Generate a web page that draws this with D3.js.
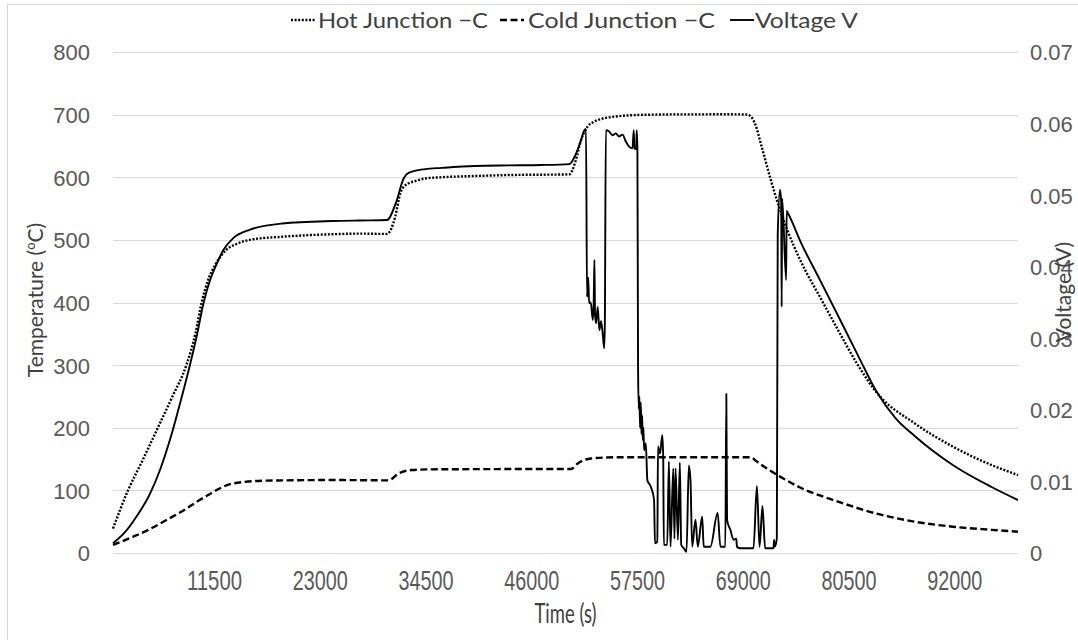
<!DOCTYPE html>
<html>
<head>
<meta charset="utf-8">
<script src="https://cdn.jsdelivr.net/npm/d3@7"></script>
<style>
  html, body { margin: 0; padding: 0; background: #fff; }
  svg { display: block; font-family: Lato, "Open Sans", sans-serif; }
</style>
</head>
<body>
<svg id="chart" width="1078" height="640"></svg>
<script>
// Thermocouple run: hot / cold junction temperatures (°C) and output voltage (V) against time (s)
const hotTime = [513, 2145, 3796, 5388, 6979, 8492, 9466, 10153, 10958, 11744, 12828, 14042, 15345, 18917, 24328, 27253, 30309, 31204, 31751, 32289, 33392, 34457, 36257, 39868, 43480, 50145, 50801, 51408, 52134, 52850, 53577, 55178, 56829, 59256, 62240, 67652, 69505, 70297, 71073, 71969, 72874, 73865, 75180, 77691, 79366, 81444, 83523, 87700, 91841, 96057, 98936];
const hotTemp = [39, 100, 150, 200, 250, 300, 350, 400, 440, 463, 484, 494, 500, 505, 509, 510, 509.5, 537, 574, 587, 594, 598, 600, 602, 603.5, 604.6, 625, 659, 681, 689, 693, 697, 699, 700, 700.4, 700.5, 700, 687, 648, 600, 556, 515, 470, 401, 356, 302, 257, 207, 170, 140.5, 124.5];

const coldTime = [513, 2712, 4492, 6333, 8173, 9934, 11157, 12102, 13535, 17156, 24368, 30488, 31572, 33015, 35183, 42345, 50333, 51059, 52493, 55018, 62241, 69801, 70538, 71622, 73063, 75180, 79366, 83523, 87700, 91841, 96057, 98936];
const coldTemp = [12.8, 26, 38, 52.7, 68, 84.6, 95, 103, 111, 115.5, 116.5, 116, 127, 132.5, 133.6, 134, 134.2, 143, 151, 152.8, 153, 153, 146, 135, 122, 105, 82, 63, 50, 42, 37, 34];

const voltTime = [513, 1818, 3123, 4428, 5624, 6821, 7908, 8887, 9648, 10355, 11062, 11823, 12550, 13535, 15346, 18916, 24328, 27253, 30309, 31304, 32120, 32657, 34457, 36257, 39868, 43480, 47081, 50145, 50801, 51408, 51776, 51955,
  52064, 52194, 52293, 52472, 52691, 52790, 52870, 52939, 53049, 53228, 53407, 53586, 53765, 53934, 54004,
  54113, 54471, 54839, 55197, 55556, 55924, 56282, 56640, 57008, 57147, 57217, 57406, 57475, 57545,
  57615, 57684, 57764, 57833, 57913, 57983, 58052, 58132, 58201, 58271, 58460, 58629, 58997, 59355, 59455, 59713, 59783, 60002, 60251, 60350, 60420, 60788, 60967, 61146,
  61445, 61574, 61694, 61952, 62161, 62310, 62599, 62887, 63136, 63315, 63504, 63862, 64111, 64588, 64758, 65484, 66270, 66568, 67105, 67215, 67294, 67652, 68011, 68299, 68369, 68727,
  70169, 70538, 70827, 71145, 71434, 72339, 72409, 72488, 72707,
  72805, 73053, 73182, 73234, 73287, 73721, 73775, 73865, 75354, 77420, 79780, 81651, 83530, 85611, 87700, 91841, 96057, 98936];
const voltValue = [0.00136, 0.0029, 0.0052, 0.008, 0.0116, 0.0163, 0.0214, 0.0263, 0.0305, 0.0349, 0.0381, 0.0405, 0.0424, 0.04393, 0.04515, 0.04603, 0.04638, 0.04646, 0.04652, 0.049, 0.05233, 0.05311, 0.05364, 0.05381, 0.05408, 0.05416, 0.05421, 0.05434, 0.0556, 0.05766, 0.05906, 0.05924,
  0.03579, 0.0385, 0.03491, 0.035, 0.03255, 0.035, 0.04095, 0.03325, 0.03211, 0.03439, 0.03115, 0.03238, 0.03071, 0.02861, 0.03211,
  0.05906, 0.05889, 0.05836, 0.05863, 0.05819, 0.05845, 0.05749, 0.05679, 0.05653, 0.05906, 0.05653, 0.05644, 0.05906, 0.05626,
  0.02625, 0.02013, 0.02188, 0.0175, 0.021, 0.01663, 0.01925, 0.01575, 0.0175, 0.01435, 0.01531, 0.01015, 0.00928, 0.00744, 0.00136, 0.00158, 0.01488, 0.01391, 0.01645, 0.01348, 0.00114, 0.00114, 0.01278, 0.00088,
  0.01181, 0.002, 0.01181, 0.00184, 0.0126, 0.00114, 0.00066, 0.00018, 0.01225, 0.01024, 0.00088, 0.00464, 0.00088, 0.00508, 0.00088, 0.00088, 0.0056, 0.00088, 0.00088, 0.02223, 0.00464, 0.00324, 0.00184, 0.00201, 0.00088, 0.00066,
  0.00066, 0.00936, 0.00088, 0.00656, 0.00066, 0.00066, 0.00184, 0.00088, 0.00201,
  0.04436, 0.05075, 0.049, 0.03439, 0.0495, 0.03815, 0.0478, 0.0476, 0.0433, 0.0381, 0.0321, 0.0273, 0.0226, 0.01886, 0.01635, 0.0123, 0.00922, 0.0074];

const timeTicks = [11500, 23000, 34500, 46000, 57500, 69000, 80500, 92000];
const tempTicks = [0, 100, 200, 300, 400, 500, 600, 700, 800];
const voltTicks = [0, 0.01, 0.02, 0.03, 0.04, 0.05, 0.06, 0.07];
const seriesNames = ["Hot Junction \u2212C", "Cold Junction \u2212C", "Voltage V"];

const svg = d3.select("#chart");
const plot = { left: 113, right: 1018, top: 52, bottom: 553 };

const x = d3.scaleLinear().domain([513, 98936]).range([plot.left, plot.right]);
const yT = d3.scaleLinear().domain([0, 800]).range([plot.bottom, plot.top]);
const yV = d3.scaleLinear().domain([0, 0.07]).range([plot.bottom, plot.top]);

// outer chart frame
svg.append("rect")
  .attr("x", 7.5).attr("y", 4.5).attr("width", 1200).attr("height", 800)
  .attr("fill", "none").attr("stroke", "#d9d9d9").attr("stroke-width", 1);

// horizontal gridlines
svg.append("g")
  .selectAll("line").data(tempTicks).join("line")
  .attr("x1", plot.left).attr("x2", plot.right)
  .attr("y1", d => Math.round(yT(d)) + 0.5).attr("y2", d => Math.round(yT(d)) + 0.5)
  .attr("stroke", "#d9d9d9").attr("stroke-width", 1);

const tickColor = "#595959";
const titleColor = "#404040";

// left axis (temperature)
const leftAxis = svg.append("g")
  .attr("transform", "translate(90,0)")
  .call(d3.axisLeft(yT).tickValues(tempTicks).tickSize(0).tickPadding(0).tickFormat(d3.format("d")));
leftAxis.select(".domain").remove();
leftAxis.selectAll("text").attr("fill", tickColor).style("font-size", "22px").attr("dy", "0.36em");

// right axis (voltage)
const rightAxis = svg.append("g")
  .attr("transform", "translate(1030,0)")
  .call(d3.axisRight(yV).tickValues(voltTicks).tickSize(0).tickPadding(0).tickFormat(d => d === 0 ? "0" : d3.format(".2f")(d)));
rightAxis.select(".domain").remove();
rightAxis.selectAll("text").attr("fill", tickColor).style("font-size", "22px").attr("dy", "0.36em");

// bottom axis (time)
const bottomAxis = svg.append("g")
  .attr("transform", `translate(0,${plot.bottom})`)
  .call(d3.axisBottom(x).tickValues(timeTicks).tickSize(0).tickPadding(0).tickFormat(d3.format("d")));
bottomAxis.select(".domain").remove();
bottomAxis.selectAll("text")
  .attr("fill", tickColor).style("font-size", "27px")
  .attr("dy", null).attr("y", 37)
  .attr("textLength", 55).attr("lengthAdjust", "spacingAndGlyphs");

// axis titles
svg.append("text")
  .attr("x", (plot.left + plot.right) / 2).attr("y", 623)
  .attr("text-anchor", "middle").attr("fill", titleColor)
  .style("font-size", "26px")
  .attr("textLength", 62).attr("lengthAdjust", "spacingAndGlyphs")
  .text("Time (s)");

const tTitle = svg.append("text")
  .attr("transform", "translate(43,300) rotate(-90)")
  .attr("text-anchor", "middle").attr("fill", titleColor)
  .style("font-size", "21px");
tTitle.append("tspan").text("Temperature (");
tTitle.append("tspan").attr("baseline-shift", "super").style("font-size", "13px").text("o");
tTitle.append("tspan").text("C)");

svg.append("text")
  .attr("transform", "translate(1071,292) rotate(-90)")
  .attr("text-anchor", "middle").attr("fill", titleColor)
  .style("font-size", "21px")
  .text("Voltage (V)");

// series lines
const hotData = hotTime.map((t, i) => [t, hotTemp[i]]);
const coldData = coldTime.map((t, i) => [t, coldTemp[i]]);
const voltData = voltTime.map((t, i) => [t, voltValue[i]]);

const tempLine = d3.line().x(d => x(d[0])).y(d => yT(d[1])).curve(d3.curveMonotoneX);
const voltLine = d3.line().x(d => x(d[0])).y(d => yV(d[1])).curve(d3.curveMonotoneX);

const styles = [
  { dash: "2,1.6", width: 2.4 },
  { dash: "7,3.5", width: 2.4 },
  { dash: null, width: 1.9 }
];

svg.append("path").datum(coldData)
  .attr("d", tempLine).attr("fill", "none").attr("stroke", "#000")
  .attr("stroke-width", styles[1].width).attr("stroke-dasharray", styles[1].dash);
svg.append("path").datum(hotData)
  .attr("d", tempLine).attr("fill", "none").attr("stroke", "#000")
  .attr("stroke-width", styles[0].width).attr("stroke-dasharray", styles[0].dash);
svg.append("path").datum(voltData)
  .attr("d", voltLine).attr("fill", "none").attr("stroke", "#000")
  .attr("stroke-width", styles[2].width).attr("stroke-linejoin", "round");

// legend
const legendItems = [
  { sx: 291, tx: 318, len: 170 },
  { sx: 500, tx: 528, len: 187 },
  { sx: 730, tx: 755, len: 103 }
];
const legend = svg.append("g");
seriesNames.forEach((name, i) => {
  const it = legendItems[i];
  legend.append("line")
    .attr("x1", it.sx).attr("x2", it.sx + 24).attr("y1", 20).attr("y2", 20)
    .attr("stroke", "#000").attr("stroke-width", styles[i].width)
    .attr("stroke-dasharray", styles[i].dash);
  legend.append("text")
    .attr("x", it.tx).attr("y", 28).attr("fill", titleColor)
    .style("font-size", "22px")
    .attr("textLength", it.len).attr("lengthAdjust", "spacingAndGlyphs")
    .text(name);
});
</script>
</body>
</html>
